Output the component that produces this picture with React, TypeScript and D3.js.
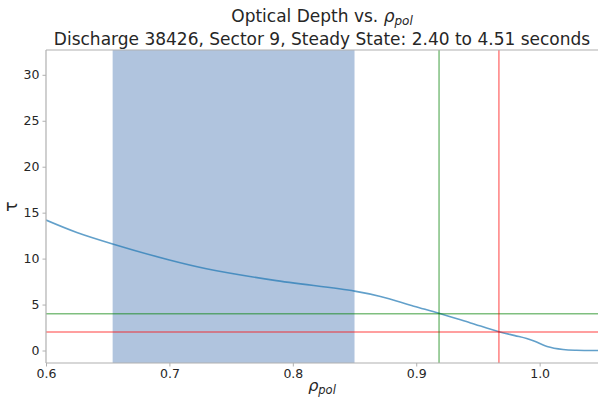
import React, { useRef, useEffect } from "react";
import { select, scaleLinear, axisBottom, axisLeft, line, curveCatmullRom } from "d3";

// optical depth profile
const rho = [0.6, 0.625, 0.654, 0.7, 0.73, 0.784, 0.85, 0.871, 0.898, 0.9185, 0.944, 0.967, 0.98, 0.9895, 0.996, 1.006, 1.019, 1.03, 1.05];
const tau = [14.2, 12.85, 11.6, 9.85, 8.9, 7.66, 6.46, 5.88, 4.82, 4.05, 3.0, 2.05, 1.62, 1.3, 1.0, 0.44, 0.11, 0.02, 0.0];

const steadyRange = [0.654, 0.85];
const tauThresholds = [4, 2];
const rhoCrossings = [0.9185, 0.967];
const thresholdColors = ["rgba(0,128,0,0.5)", "rgba(255,0,0,0.5)"];

const xTicks = [0.6, 0.7, 0.8, 0.9, 1.0];
const yTicks = [0, 5, 10, 15, 20, 25, 30];

const W = 598;
const H = 401;
const left = 46;
const right = 598;
const top = 50;
const bottom = 363;

export default function App() {
  const svgRef = useRef<SVGSVGElement>(null);

  const x = scaleLinear().domain([0.6, 1.0473]).range([left, right]);
  const y = scaleLinear().domain([-1.36, 32.7]).range([bottom, top]);

  useEffect(() => {
    const svg = select(svgRef.current);

    const xAxis = axisBottom(x)
      .tickValues(xTicks)
      .tickFormat((d: any) => (+d).toFixed(1))
      .tickSize(3.5)
      .tickPadding(3);
    const gx = svg.select<SVGGElement>(".x-axis").attr("transform", `translate(0,${bottom})`).call(xAxis);

    const yAxis = axisLeft(y).tickValues(yTicks).tickSize(3.5).tickPadding(3);
    const gy = svg.select<SVGGElement>(".y-axis").attr("transform", `translate(${left},0)`).call(yAxis);

    [gx, gy].forEach((g) => {
      g.select(".domain").remove();
      g.selectAll("line").attr("stroke", "#b0b0b0");
      g.selectAll("text")
        .attr("fill", "#262626")
        .style("font-family", "DejaVu Sans")
        .style("font-size", "12.5px");
    });

    const profile = line<number>()
      .x((d, i) => x(rho[i]))
      .y((d) => y(d))
      .curve(curveCatmullRom);

    svg
      .select(".curve")
      .selectAll("path")
      .data([tau])
      .join("path")
      .attr("d", profile)
      .attr("fill", "none")
      .attr("stroke", "#1f77b4")
      .attr("stroke-opacity", 0.7)
      .attr("stroke-width", 1.6);
  }, []);

  return (
    <svg
      ref={svgRef}
      width={W}
      height={H}
      style={{ position: "absolute", left: 0, top: 0, background: "white" }}
      fontFamily="DejaVu Sans"
    >
      <defs>
        <clipPath id="plot">
          <rect x={left} y={top} width={right - left} height={bottom - top} />
        </clipPath>
      </defs>
      <rect
        x={x(steadyRange[0])}
        y={top}
        width={x(steadyRange[1]) - x(steadyRange[0])}
        height={bottom - top}
        fill="#b0c4de"
      />
      <g className="curve" clipPath="url(#plot)" />
      {tauThresholds.map((t, i) => (
        <line key={"h" + i} x1={left} x2={right} y1={y(t)} y2={y(t)} stroke={thresholdColors[i]} strokeWidth={1.5} />
      ))}
      {rhoCrossings.map((r, i) => (
        <line key={"v" + i} x1={x(r)} x2={x(r)} y1={top} y2={bottom} stroke={thresholdColors[i]} strokeWidth={1.5} />
      ))}
      <g fill="none" stroke="#b0b0b0" strokeWidth={1.2}>
        <line x1={left} x2={right} y1={top} y2={top} />
        <line x1={left} x2={right} y1={bottom} y2={bottom} />
        <line x1={left} x2={left} y1={top} y2={bottom} />
      </g>
      <g className="x-axis" />
      <g className="y-axis" />
      <text x={(left + right) / 2} y={22} textAnchor="middle" fontSize={17} fill="#262626">
        Optical Depth vs. <tspan fontStyle="italic">ρ</tspan>
        <tspan fontStyle="italic" fontSize={12} dy={3}>pol</tspan>
      </text>
      <text x={(left + right) / 2} y={45} textAnchor="middle" fontSize={17} fill="#262626">
        Discharge 38426, Sector 9, Steady State: 2.40 to 4.51 seconds
      </text>
      <text x={(left + right) / 2} y={391} textAnchor="middle" fontSize={16} fill="#262626">
        <tspan fontStyle="italic">ρ</tspan>
        <tspan fontStyle="italic" fontSize={11.5} dy={3}>pol</tspan>
      </text>
      <text
        transform={`translate(17,${(top + bottom) / 2}) rotate(-90)`}
        textAnchor="middle"
        fontSize={17}
        fill="#262626"
      >
        τ
      </text>
    </svg>
  );
}
